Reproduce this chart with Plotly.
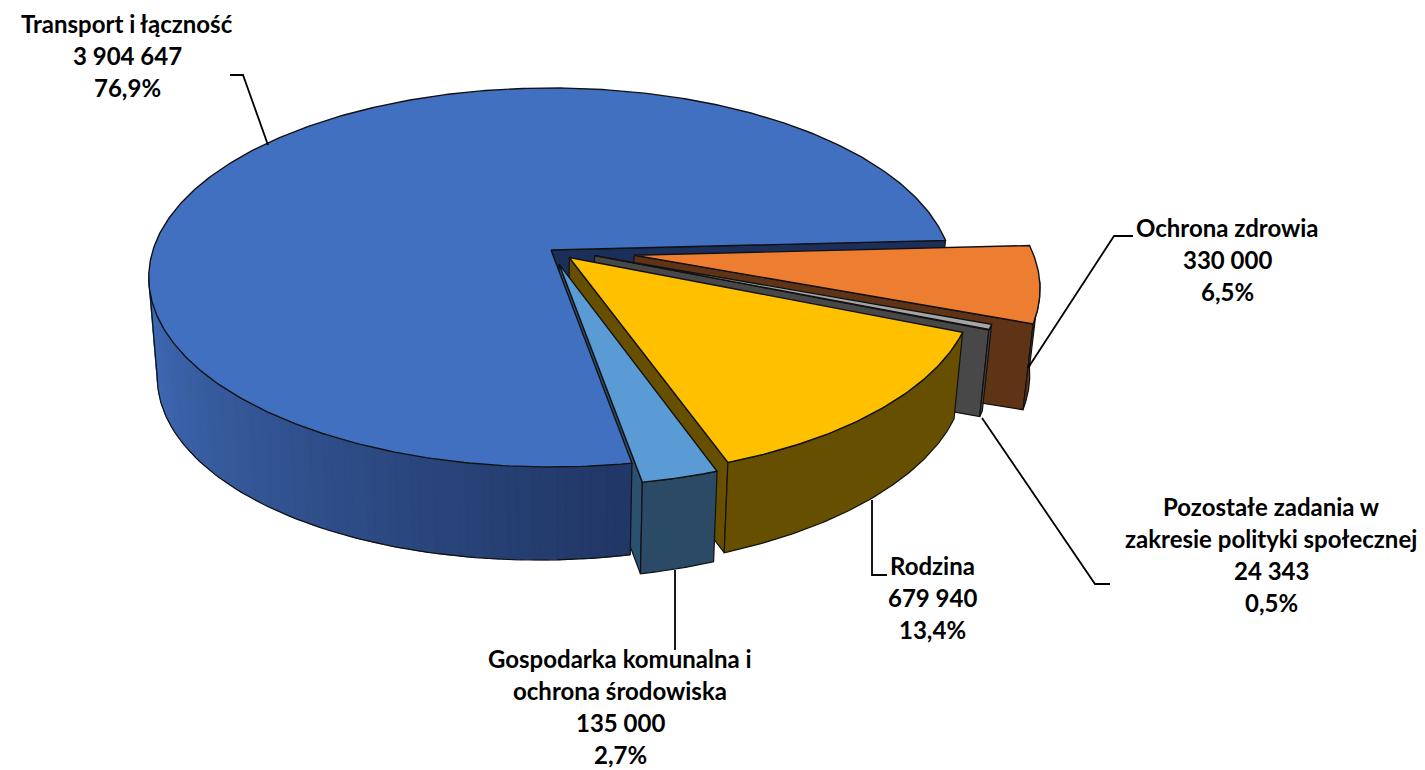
import numpy as np
import plotly.graph_objects as go

# ---- data ----
categories = ["Transport i łączność", "Ochrona zdrowia", "Pozostałe zadania w zakresie polityki społecznej", "Rodzina", "Gospodarka komunalna i ochrona środowiska"]
values = [3904647, 330000, 24343, 679940, 135000]
percent_labels = ["76,9%", "6,5%", "0,5%", "13,4%", "2,7%"]
value_labels = ["3 904 647", "330 000", "24 343", "679 940", "135 000"]

# ---- styling ----
top_colors = ["#4270C0", "#ED7D31", "#A5A5A5", "#FFC000", "#5B9BD5"]
cut_colors = ["#1B2F5A", "#5F3315", "#484848", "#665000", "#2B5170"]
wall_colors = [None, "#5F3315", "#484848", "#665000", "#2A4A66"]
offset_u = [0, 0.208, 0.109, 0.0455, 0.020]
offset_v = [0, -0.028, -0.030, -0.040, -0.075]
START_DEG = 3.0
CX, CY, A, B, K = 551, 250, 398, 185.5, 0.145
OUT = "#111111"
FONT = "Lato"
FS = 24

total = sum(values)
spans = [v / total * 360 for v in values]
# slice i runs clockwise from hi[i] to lo[i]; the first slice ends at START_DEG
edges = [START_DEG]
for s in spans[1:]:
    edges.append(edges[-1] - s)
arcs = [(START_DEG + 0.0, START_DEG + spans[0])]
for i in range(1, 5):
    arcs.append((edges[i], edges[i - 1]))


def proj(u, v):
    w = 1 + K * v
    return CX + A * u / w, CY - B * v / w


def lower(x, y):
    x, y = np.asarray(x, float), np.asarray(y, float)
    return CX + (x - CX) * 0.979, y + 93 - 0.015 * (x - CX)


def rim(i, a0, a1, n=120):
    t = np.radians(np.linspace(a0, a1, n))
    return proj(np.cos(t) + offset_u[i], np.sin(t) + offset_v[i])


fig = go.Figure()


def poly(x, y, fill, line=OUT, lw=1.2):
    fig.add_trace(go.Scatter(x=list(x) + [x[0]], y=list(y) + [y[0]], mode="lines", fill="toself", fillcolor=fill,
                             line=dict(color=line if line else fill, width=lw if line else 0.5),
                             hoverinfo="skip", showlegend=False))


def radial_wall(i, ang):
    ax, ay = proj(offset_u[i], offset_v[i])
    rx, ry = rim(i, ang, ang, 1)
    rx, ry = float(rx[0]), float(ry[0])
    bx, by = lower([ax, rx], [ay, ry])
    poly([ax, rx, bx[1], bx[0]], [ay, ry, by[1], by[0]], cut_colors[i])


def outer_wall(i, a0, a1, c0=None, c1=None):
    x, y = rim(i, a0, a1, 90)
    bx, by = lower(x, y)
    if c0 is None:
        poly(list(x) + list(bx[::-1]), list(y) + list(by[::-1]), wall_colors[i])
        return
    n = 60
    c0, c1 = np.array(c0), np.array(c1)
    step = (len(x) - 1) / n
    for k in range(n):
        s, e = int(k * step), int((k + 1) * step) + 1
        c = c0 + (c1 - c0) * k / (n - 1)
        col = "rgb(%d,%d,%d)" % tuple(c)
        sx, sy, tx, ty = x[s:e + 1], y[s:e + 1], bx[s:e + 1], by[s:e + 1]
        poly(list(sx) + list(tx[::-1]), list(sy) + list(ty[::-1]), col, line=None)
    for lx, ly in ((bx, by), ([bx[-1], x[-1]], [by[-1], y[-1]]), ([bx[0], x[0]], [by[0], y[0]])):
        fig.add_trace(go.Scatter(x=lx, y=ly, mode="lines", line=dict(color=OUT, width=1.2), hoverinfo="skip", showlegend=False))


def top(i):
    a0, a1 = arcs[i]
    x, y = rim(i, a0, a1, 400 if i == 0 else 80)
    ax, ay = proj(offset_u[i], offset_v[i])
    poly([ax] + list(x), [ay] + list(y), top_colors[i], lw=1.4)


# cut faces (hidden parts are covered by the large slice afterwards)
radial_wall(0, arcs[0][0])
for i in range(1, 5):
    radial_wall(i, arcs[i][0])

# big slice: the wall begins at the left silhouette point
outer_wall(0, 188.3, arcs[0][1], (66, 110, 186), (33, 55, 102))
top(0)

# exploded slices, back to front; the wall stops at the right silhouette point
wall_limit = [None, -8.0, None, None, None]
for i in (1, 2, 3, 4):
    a0, a1 = arcs[i]
    outer_wall(i, a0, a1 if wall_limit[i] is None else wall_limit[i])
    top(i)

# ---- leader lines ----
leaders = [
    ([230, 243, 268], [75, 75, 145]),
    ([1133, 1114, 1028], [236, 236, 368]),
    ([1110, 1095, 982], [584, 584, 418]),
    ([887, 872, 872], [575, 575, 500]),
    ([675, 675], [570, 650]),
]
for lx, ly in leaders:
    fig.add_trace(go.Scatter(x=lx, y=ly, mode="lines", line=dict(color="#000000", width=1.8), hoverinfo="skip", showlegend=False))

# ---- labels ----
label_lines = [
    [categories[0], value_labels[0], percent_labels[0]],
    [categories[1], value_labels[1], percent_labels[1]],
    ["Pozostałe zadania w", "zakresie polityki społecznej", value_labels[2], percent_labels[2]],
    [categories[3], value_labels[3], percent_labels[3]],
    ["Gospodarka komunalna i", "ochrona środowiska", value_labels[4], percent_labels[4]],
]
label_x = [127, 1227, 1271, 932, 620]
label_y = [23, 227, 506, 565, 658]
for lines, lx, ly in zip(label_lines, label_x, label_y):
    for j, t in enumerate(lines):
        fig.add_annotation(x=lx, y=ly + j * 32.0, text="<b>%s</b>" % t, showarrow=False, xanchor="center", yanchor="middle",
                           font=dict(family=FONT, size=FS, color="#000000"))

fig.update_layout(width=1425, height=770, margin=dict(l=0, r=0, t=0, b=0), paper_bgcolor="white", plot_bgcolor="white",
                  showlegend=False,
                  xaxis=dict(range=[0, 1425], visible=False, fixedrange=True),
                  yaxis=dict(range=[770, 0], visible=False, fixedrange=True))
fig.write_html("out.html", post_script="document.body.style.margin='0';", config={"displayModeBar": False})
